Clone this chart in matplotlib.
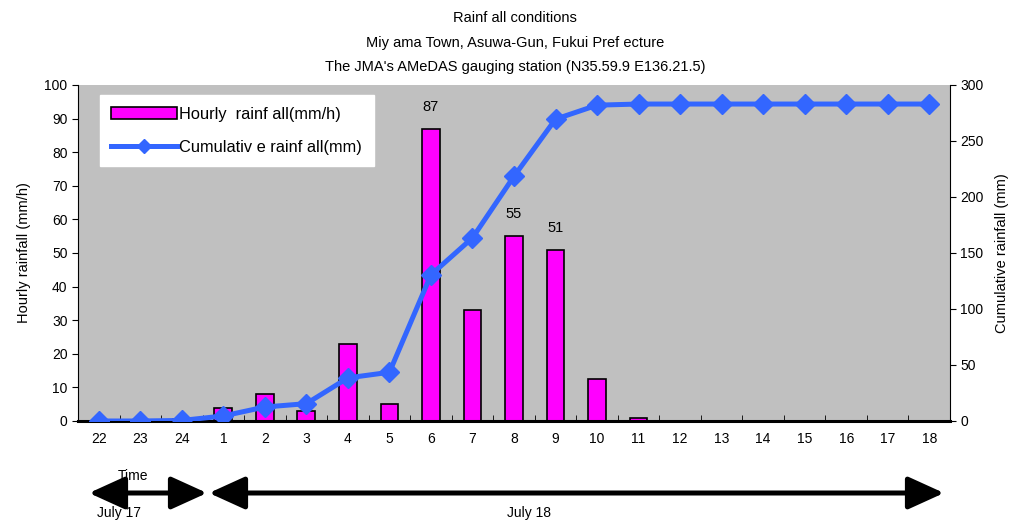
import matplotlib
matplotlib.use("Agg")
import matplotlib.pyplot as plt
from matplotlib.patches import FancyArrowPatch
import numpy as np

plt.rcParams['font.family'] = ['Liberation Sans', 'DejaVu Sans']

hours = ["22", "23", "24", "1", "2", "3", "4", "5", "6", "7", "8", "9", "10",
         "11", "12", "13", "14", "15", "16", "17", "18"]
hourly = [0, 0, 0.5, 4, 8, 3, 23, 5, 87, 33, 55, 51, 12.5, 1, 0, 0, 0, 0, 0, 0, 0]
cumulative = [0, 0, 0.5, 4.5, 12.5, 15.5, 38.5, 43.5, 130.5, 163.5, 218.5, 269.5,
              282, 283, 283, 283, 283, 283, 283, 283, 283]
labelled = {"6": 87, "8": 55, "9": 51}

fig = plt.figure(figsize=(10.15, 5.21), dpi=100)
ax = fig.add_axes([78/1015, 100/521, 872/1015, 336/521])
ax.set_facecolor("#C0C0C0")
x = np.arange(len(hours))

ax.bar(x, hourly, width=0.43, color="#FF00FF", edgecolor="black", linewidth=1.2,
       label="Hourly  rainf all(mm/h)", zorder=2)
for i, h in enumerate(hours):
    if h in labelled:
        ax.text(i, labelled[h] + 4.5, str(labelled[h]), ha="center", va="bottom", fontsize=10.5)

ax.set_xlim(-0.5, len(hours) - 0.5)
ax.set_ylim(0, 100)
ax.set_yticks(range(0, 101, 10))
ax.set_xticks(x)
ax.set_xticklabels(hours, fontsize=10)
ax.set_xticks(np.arange(0.5, len(hours) - 1, 1), minor=True)
ax.tick_params(axis="x", which="major", length=0, pad=8)
ax.tick_params(axis="x", which="minor", direction="in", length=4)
ax.tick_params(axis="y", labelsize=10, direction="out", length=4)
ax.set_ylabel("Hourly rainfall (mm/h)", fontsize=10.5, labelpad=10)
for s in ["top", "right"]:
    ax.spines[s].set_visible(False)
ax.spines["bottom"].set_linewidth(2.2)

ax2 = ax.twinx()
ax2.plot(x, cumulative, color="#3366FF", linewidth=3.6, marker="D", markersize=10,
         label="Cumulativ e rainf all(mm)", zorder=3)
ax2.set_ylim(0, 300)
ax2.set_yticks(range(0, 301, 50))
ax2.tick_params(axis="y", labelsize=10, direction="out", length=4)
ax2.set_ylabel("Cumulative rainfall (mm)", fontsize=10.5, labelpad=8)
for s in ["top", "left"]:
    ax2.spines[s].set_visible(False)
ax2.spines["bottom"].set_visible(False)

h1, l1 = ax.get_legend_handles_labels()
h2, l2 = ax2.get_legend_handles_labels()
leg = ax2.legend(h1 + h2, l1 + l2, loc="upper left", bbox_to_anchor=(0.025, 0.97),
                 borderaxespad=0, fontsize=11.8, frameon=True, fancybox=False,
                 edgecolor="white", facecolor="white", framealpha=1, handlelength=4.0,
                 labelspacing=1.1, borderpad=0.7, handletextpad=0.15, markerscale=0.7)

fig.text(515/1015, 1 - 18/521, "Rainf all conditions", ha="center", va="center", fontsize=10.5)
fig.text(515/1015, 1 - 43/521, "Miy ama Town, Asuwa-Gun, Fukui Pref ecture", ha="center", va="center", fontsize=10.5)
fig.text(515/1015, 1 - 67/521, "The JMA's AMeDAS gauging station (N35.59.9 E136.21.5)", ha="center", va="center", fontsize=10.5)

# date arrows under the axis
def day_arrow(x0, x1, y):
    a = FancyArrowPatch((x0/1015, 1 - y/521), (x1/1015, 1 - y/521), transform=fig.transFigure,
                        arrowstyle="<|-|>,head_length=2.2,head_width=1.0", mutation_scale=10,
                        color="black", linewidth=3.6, shrinkA=0, shrinkB=0)
    fig.patches.append(a)

day_arrow(89, 207, 493)
day_arrow(209, 944, 493)
fig.text(118/1015, 1 - 476/521, "Time", ha="left", va="center", fontsize=10)
fig.text(97/1015, 1 - 513/521, "July 17", ha="left", va="center", fontsize=10)
fig.text(507/1015, 1 - 513/521, "July 18", ha="left", va="center", fontsize=10)

fig.savefig("out.png", dpi=100)
